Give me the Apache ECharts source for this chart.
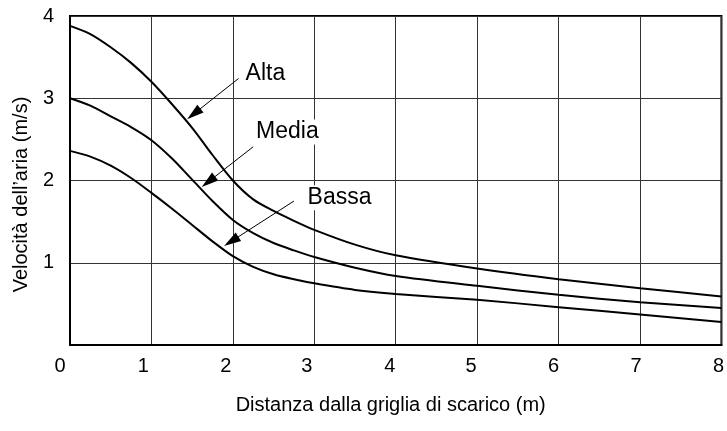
<!DOCTYPE html>
<html>
<head>
<meta charset="utf-8">
<script src="https://cdn.jsdelivr.net/npm/echarts@6/dist/echarts.min.js"></script>
<style>html,body{margin:0;padding:0;background:#fff}#c{width:727px;height:431px}</style>
</head>
<body>
<div id="c"></div>
<script>
var xValues = [0, 0.25, 0.5, 0.75, 1, 1.25, 1.5, 1.75, 2, 2.25, 2.5, 2.75, 3, 3.5, 4, 5, 6, 7, 8];
var alta  = [3.88, 3.78, 3.62, 3.43, 3.20, 2.93, 2.64, 2.31, 2.00, 1.77, 1.63, 1.51, 1.40, 1.22, 1.09, 0.93, 0.80, 0.69, 0.59];
var media = [3.00, 2.91, 2.78, 2.65, 2.49, 2.27, 2.01, 1.75, 1.52, 1.36, 1.24, 1.15, 1.07, 0.94, 0.84, 0.72, 0.61, 0.52, 0.45];
var bassa = [2.36, 2.29, 2.18, 2.03, 1.85, 1.66, 1.46, 1.26, 1.08, 0.95, 0.86, 0.80, 0.75, 0.67, 0.62, 0.55, 0.46, 0.37, 0.28];
var seriesNames = ['Alta', 'Media', 'Bassa'];
// annotation anchors in data units: label centre, arrow start, arrow head centre
var labelPos   = [[2.40, 3.30], [2.67, 2.59], [3.31, 1.79]];
var arrowStart = [[2.07, 3.24], [2.25, 2.41], [2.75, 1.75]];
var arrowEnd   = [[1.52, 2.81], [1.70, 1.985], [1.98, 1.26]];
var xTicks = [0, 8, 1];
var yTicks = [0, 4, 1];
var xTitle = 'Distanza dalla griglia di scarico (m)';
var yTitle = 'Velocità dell’aria (m/s)';

var FONT = 'Liberation Sans, Arial, sans-serif';
function pairs(ys) { return xValues.map(function (x, i) { return [x, ys[i]]; }); }
var allData = [alta, media, bassa];

// small per-label horizontal nudges of the x tick labels (style only)
var xLabelPad = [20, 16, 14, 15, 12, 12, 10, 8, 6];
var xRich = {};
xLabelPad.forEach(function (p, i) {
  xRich['t' + i] = { fontFamily: FONT, fontSize: 20, color: '#000', padding: [0, p, 0, 0] };
});

var series = allData.map(function (ys, k) {
  return {
    name: seriesNames[k],
    type: 'line',
    data: pairs(ys),
    smooth: 0.3,
    showSymbol: false,
    symbol: 'none',
    lineStyle: { color: '#000', width: 2 },
    z: 3,
    markLine: {
      silent: true,
      animation: false,
      symbol: ['none', 'triangle'],
      symbolSize: [0, 16],
      lineStyle: { color: '#000', width: 1, type: 'solid' },
      label: { show: false },
      data: [[
        { coord: arrowStart[k], symbol: 'none' },
        { coord: arrowEnd[k], symbol: 'triangle', symbolSize: [10, 17], itemStyle: { color: '#000' } }
      ]]
    },
    markPoint: {
      silent: true,
      animation: false,
      symbol: 'circle',
      symbolSize: 0,
      z: 10,
      data: [{
        coord: labelPos[k],
        label: {
          show: true,
          position: 'inside',
          formatter: seriesNames[k],
          color: '#000',
          fontFamily: FONT,
          fontSize: 23,
          backgroundColor: '#fff',
          padding: [1, 2]
        }
      }]
    }
  };
});

var chart = echarts.init(document.getElementById('c'), null, { renderer: 'canvas' });
chart.setOption({
  animation: false,
  backgroundColor: '#fff',
  grid: { left: 70, right: 5, top: 16, bottom: 86, show: true, borderColor: '#000', borderWidth: 2, backgroundColor: 'transparent' },
  xAxis: {
    type: 'value', min: xTicks[0], max: xTicks[1], interval: xTicks[2],
    name: xTitle, nameLocation: 'middle', nameGap: 50,
    nameTextStyle: { fontFamily: FONT, fontSize: 20, color: '#000', padding: [0, 10, 0, 0] },
    axisLine: { show: true, lineStyle: { color: '#000', width: 2 } },
    axisTick: { show: false },
    axisLabel: {
      fontFamily: FONT, fontSize: 20, color: '#000', margin: 11,
      formatter: function (v) { return '{t' + Math.round(v) + '|' + v + '}'; },
      rich: xRich
    },
    splitLine: { show: true, lineStyle: { color: '#333', width: 1 } }
  },
  yAxis: {
    type: 'value', min: yTicks[0], max: yTicks[1], interval: yTicks[2],
    name: yTitle, nameLocation: 'middle', nameGap: 38, nameRotate: 90,
    nameTextStyle: { fontFamily: FONT, fontSize: 20, color: '#000', padding: [0, 28, 0, 0] },
    axisLine: { show: true, lineStyle: { color: '#000', width: 2 } },
    axisTick: { show: false },
    axisLabel: {
      fontFamily: FONT, fontSize: 20, color: '#000', margin: 16, padding: [8, 0, 0, 0],
      formatter: function (v) { return v === 0 ? '' : String(v); }
    },
    splitLine: { show: true, lineStyle: { color: '#333', width: 1 } }
  },
  series: series
});
</script>
</body>
</html>
